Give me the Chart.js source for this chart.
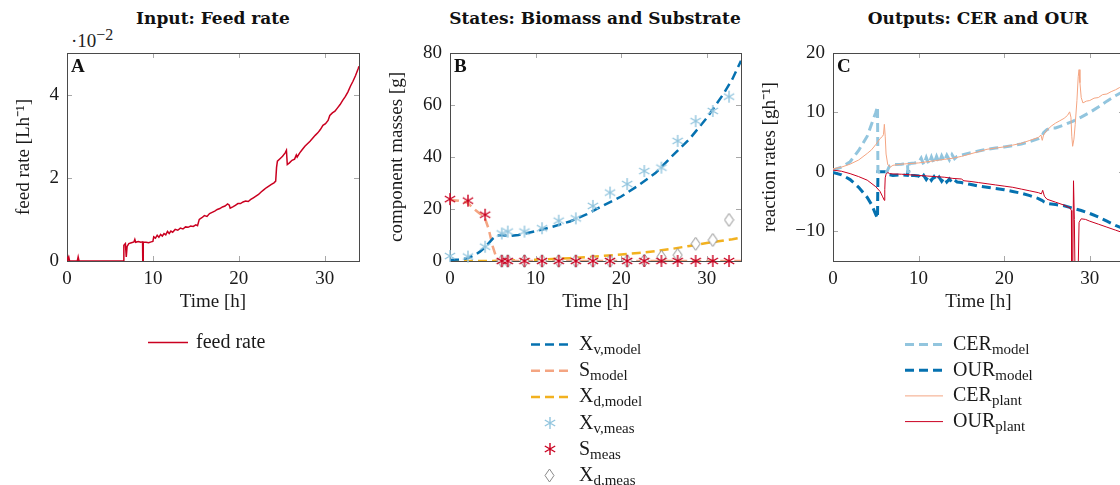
<!DOCTYPE html>
<html>
<head>
<meta charset="utf-8">
<script src="https://cdn.jsdelivr.net/npm/chart.js@4/dist/chart.umd.min.js"></script>
<style>
  html, body { margin: 0; padding: 0; background: #fff; width: 1120px; height: 485px; overflow: hidden; }
  canvas { position: absolute; top: 0; }
  .ttl { position: absolute; top: 8px; font: bold 17px "DejaVu Serif"; color: #111; white-space: nowrap; transform: translateX(-50%); }
  .expo { position: absolute; left: 71px; top: 26px; font: 19px "Liberation Serif"; color: #222; }
  .expo sup { font-size: 16px; }
</style>
</head>
<body>
<div class="ttl" style="left:213px">Input: Feed rate</div>
<div class="ttl" style="left:595px">States: Biomass and Substrate</div>
<div class="ttl" style="left:978px">Outputs: CER and OUR</div>
<div class="expo">·10<sup>−2</sup></div>
<canvas id="cA" width="380" height="485" style="left:0px"></canvas>
<canvas id="cB" width="380" height="485" style="left:375px"></canvas>
<canvas id="cC" width="400" height="485" style="left:752px"></canvas>
<script>
// ---- data ----
const timeTicks = [0, 10, 20, 30];
const feedTicks = [0, 2, 4];
const massTicks = [0, 20, 40, 60, 80];
const rateTicks = [-10, 0, 10, 20];

// feed rate (x 10^-2 L/h)
const feedTime = [0, 0.1, 0.2, 0.3, 1.2, 1.3, 1.4, 6.6, 6.62, 6.8, 6.9, 7.0, 7.2, 7.5, 7.8, 7.9, 8.0, 8.3, 8.6, 8.8, 8.82, 8.86, 8.88,
  9.2, 9.5, 9.8, 10.0, 10.1, 10.3, 10.5, 10.7, 10.9, 11.1, 11.3, 11.5, 11.7, 11.9, 12.1, 12.3, 12.6, 12.9, 13.2, 13.5, 13.8,
  14.1, 14.4, 14.7, 15.0, 15.2, 15.4, 15.7, 16.0, 16.3, 16.6, 16.9, 17.2, 17.5, 17.8, 18.1, 18.4, 18.7, 18.9, 19.0, 19.3,
  19.6, 19.9, 20.2, 20.5, 20.8, 21.1, 21.4, 21.7, 22.0, 22.3, 22.6, 22.9, 23.2, 23.5, 23.8, 24.1, 24.3, 24.4, 24.5, 24.8,
  25.1, 25.4, 25.55, 25.65, 25.9, 26.2, 26.5, 26.7, 26.8, 27.1, 27.4, 27.7, 28.0, 28.3, 28.6, 28.9, 29.2, 29.5, 29.8, 30.1,
  30.4, 30.6, 30.9, 31.2, 31.5, 31.8, 32.1, 32.4, 32.7, 33.0, 33.3, 33.6, 33.9, 34.0];
const feedRate = [0.1, 0.05, 0.1, 0, 0, 0.1, 0, 0, 0.38, 0.42, 0.1, 0.35, 0.42, 0.44, 0.46, 0.52, 0.45, 0.47, 0.45, 0.46, 0, 0, 0.45,
  0.45, 0.44, 0.46, 0.47, 0.58, 0.55, 0.62, 0.57, 0.64, 0.6, 0.66, 0.63, 0.71, 0.66, 0.72, 0.69, 0.76, 0.74, 0.79, 0.77, 0.82,
  0.81, 0.84, 0.83, 0.87, 0.85, 1.0, 1.04, 1.09, 1.07, 1.14, 1.17, 1.2, 1.24, 1.26, 1.3, 1.32, 1.37, 1.34, 1.27, 1.3,
  1.34, 1.38, 1.38, 1.42, 1.44, 1.43, 1.48, 1.52, 1.56, 1.6, 1.66, 1.71, 1.76, 1.8, 1.84, 1.88, 1.92, 2.25, 2.4, 2.46,
  2.52, 2.6, 2.66, 2.32, 2.36, 2.42, 2.45, 2.55, 2.5, 2.6, 2.68, 2.76, 2.82, 2.88, 2.95, 3.02, 3.08, 3.16, 3.26, 3.3,
  3.38, 3.5, 3.56, 3.6, 3.68, 3.76, 3.86, 3.95, 4.06, 4.2, 4.32, 4.46, 4.62, 4.68];

// states (g)
const modelTime = [0, 1, 2, 3, 3.5, 4, 4.5, 5, 5.5, 6, 7, 8, 10, 12, 14, 16, 18, 20, 22, 24, 26, 28, 30, 32, 33, 34];
const xvModel = [0.4, 0.6, 1.0, 2.5, 3.6, 5.0, 6.8, 8.6, 9.8, 10.0, 9.6, 10.0, 11.5, 13.2, 15.2, 18.0, 21.5, 24.8, 29.0, 33.8, 40.5, 47.0, 55.0, 64.5, 70.0, 77.0];
const sModel = [23.5, 23.2, 22.5, 19.5, 18.2, 17.2, 12.5, 5.5, 0.5, 0.1, 0, 0, 0, 0, 0, 0, 0, 0, 0, 0, 0, 0, 0, 0, 0, 0];
const xdModel = [0, 0, 0, 0, 0, 0, 0, 0, 0.05, 0.1, 0.2, 0.3, 0.5, 0.8, 1.1, 1.5, 2.0, 2.5, 3.1, 3.8, 4.7, 5.8, 6.9, 7.9, 8.4, 9.0];
const measTime = [0, 2.1, 4.1, 6.05, 6.75, 8.7, 10.75, 12.7, 14.7, 16.7, 18.7, 20.7, 22.7, 24.7, 26.6, 28.7, 30.7, 32.6];
const xvMeas = [1.9, 1.7, 5.5, 10.6, 11.3, 11.3, 12.6, 15.5, 16.4, 21.2, 26.3, 29.6, 34.6, 35.9, 46.2, 53.8, 57.7, 63.2];
const sMeas = [23.8, 23.2, 17.8, 0, 0, 0, 0, 0, 0, 0, 0, 0, 0, 0, 0, 0, 0, 0];
const xdMeas = [null, null, null, 0, 0, 0, 0, 0, 0, 0, 0, 0, 0.2, 1.6, 2.3, 6.6, 8.1, 15.8];

// outputs (g/h)
const rateModelTime = [0, 1, 2, 3, 4, 4.5, 5.0, 5.2, 5.25, 6.3, 6.6, 7, 8, 8.7, 8.75, 8.85, 8.9, 9.5, 10, 10.3, 10.6, 10.9, 11.2,
  11.5, 11.8, 12.1, 12.4, 12.7, 13.0, 13.3, 13.6, 13.9, 14.2, 14.5, 15, 16, 17, 18, 19, 20, 21, 22, 23, 24, 24.4, 24.6,
  25, 25.5, 26, 27, 28, 29, 30, 31, 32, 33, 34];
const cerModel = [0.3, 0.8, 1.7, 3.6, 6.0, 8.0, 10.0, 11.0, 0, 0, 1.0, 1.2, 1.3, 1.4, 0, 0, 1.4, 1.5, 1.6, 2.3, 1.2, 2.4, 1.3,
  2.5, 1.4, 2.6, 1.5, 2.7, 1.8, 2.8, 2.0, 2.9, 2.2, 2.6, 2.8, 3.2, 3.5, 3.8, 4.0, 4.2, 4.4, 4.7, 5.1, 5.6, 6.0, 6.6,
  7.1, 7.4, 7.4, 7.9, 8.5, 9.2, 10.0, 10.9, 11.9, 12.8, 13.6];
const ourModel = [-0.1, -0.5, -1.3, -2.6, -4.3, -5.5, -7.2, -7.8, 0, 0, -0.5, -0.6, -0.5, -0.6, 0, 0, -0.6, -0.6, -0.7, -1.2, -0.6, -1.3, -0.7,
  -1.4, -0.8, -1.5, -0.9, -1.6, -1.0, -1.7, -1.2, -1.8, -1.4, -1.7, -1.8, -2.1, -2.4, -2.6, -2.8, -3.0, -3.3, -3.6, -4.0, -4.5, -4.8, -5.0,
  -5.3, -5.4, -5.5, -5.7, -6.1, -6.5, -7.0, -7.6, -8.3, -9.0, -9.6];
const cerPlantTime = [0, 1, 2, 3, 4, 4.5, 5, 5.5, 5.8, 5.9, 6.0, 6.1, 6.2, 6.4, 6.7, 7.0, 7.5, 8, 9, 10, 11, 12, 13, 14, 15, 16, 17,
  18, 19, 20, 21, 22, 23, 24, 24.3, 24.45, 24.6, 25, 25.5, 26, 26.5, 27, 27.4, 27.65, 27.8, 27.9, 28.0, 28.15, 28.3, 28.5,
  28.65, 28.75, 28.85, 29.0, 29.2, 29.6, 30, 30.5, 31, 31.5, 32, 32.5, 33, 33.5, 34];
const cerPlant = [0.5, 0.8, 1.3, 2.0, 3.1, 3.7, 4.6, 5.6, 6.0, 6.3, 8.0, 6.0, 3.0, 1.2, 0.8, 1.1, 1.2, 1.3, 1.4, 1.5, 1.7, 1.9, 2.1, 2.3, 2.6, 3.0, 3.4,
  3.8, 4.0, 4.2, 4.5, 4.8, 5.3, 5.8, 6.2, 5.3, 6.2, 7.0, 7.7, 8.2, 8.6, 9.0, 9.5, 10.1, 9.2, 6.0, 4.3, 5.5, 8.0, 12.0,
  16.0, 17.2, 15.0, 12.5, 11.6, 11.9, 12.0, 12.4, 12.5, 13.0, 13.1, 13.5, 13.8, 14.2, 14.3];
const ourPlantTime = [0, 1, 2, 3, 4, 5, 5.5, 5.8, 6.0, 6.05, 6.1, 6.2, 6.4, 6.6, 7, 8, 9, 10, 11, 12, 13, 14, 15, 15.3, 16, 17, 18,
  19, 20, 21, 22, 23, 24, 24.35, 24.5, 24.7, 25, 26, 27, 27.7, 27.85, 27.9, 28.0, 28.1, 28.2, 28.3, 28.6, 28.75, 29, 29.5,
  30, 31, 32, 33, 34];
const ourPlant = [0.3, 0.1, -0.3, -0.8, -1.4, -2.5, -3.3, -4.2, -4.8, -3.0, -1.0, -0.4, -0.1, -0.3, -0.35, -0.4, -0.5, -0.6, -0.7, -0.8, -0.9, -1.1, -1.2, -1.5, -1.6, -1.8, -2.0,
  -2.2, -2.4, -2.6, -2.9, -3.2, -3.5, -3.7, -3.1, -4.1, -4.6, -5.1, -5.6, -6.1, -6.5, -20, -20, -1.5, -8, -20, -20, -8.5, -7.9, -8.0,
  -8.3, -8.8, -9.3, -9.8, -10.3];

// ---- colours ----
const RED = '#ca0020', SALMON = '#f4a582', LBLUE = '#92c5de', DBLUE = '#0571b0', ORANGE = '#f2b11f', GRAY = '#8a8a8a';
const FONT = '"Liberation Serif", serif';
const TXT = '#1a1a1a';

const zip = (xs, ys) => xs.map((x, i) => ({ x: x, y: ys[i] }));

function asterisk(color) {
  const c = document.createElement('canvas');
  c.width = 14; c.height = 14;
  const g = c.getContext('2d');
  g.strokeStyle = color; g.lineWidth = 1.4;
  g.beginPath();
  for (let k = 0; k < 3; k++) {
    const a = Math.PI / 2 + k * Math.PI / 3;
    g.moveTo(7 + 6 * Math.cos(a), 7 + 6 * Math.sin(a));
    g.lineTo(7 - 6 * Math.cos(a), 7 - 6 * Math.sin(a));
  }
  g.stroke();
  return c;
}
function diamond(color) {
  const c = document.createElement('canvas');
  c.width = 11; c.height = 15;
  const g = c.getContext('2d');
  g.strokeStyle = color; g.fillStyle = '#fff'; g.lineWidth = 1;
  g.beginPath();
  g.moveTo(5.5, 1); g.lineTo(10, 7.5); g.lineTo(5.5, 14); g.lineTo(1, 7.5); g.closePath();
  g.fill(); g.stroke();
  return c;
}

// frame, inward ticks and panel letter
const frame = {
  id: 'frame',
  beforeDatasetsDraw(chart) {
    const { ctx, chartArea: a, scales } = chart;
    ctx.save();
    ctx.strokeStyle = '#a8a8a8';
    ctx.lineWidth = 1;
    ctx.beginPath();
    scales.x.ticks.forEach(t => {
      const px = Math.round(scales.x.getPixelForValue(t.value)) + 0.5;
      ctx.moveTo(px, a.bottom); ctx.lineTo(px, a.bottom - 5);
      ctx.moveTo(px, a.top); ctx.lineTo(px, a.top + 5);
    });
    scales.y.ticks.forEach(t => {
      const py = Math.round(scales.y.getPixelForValue(t.value)) + 0.5;
      ctx.moveTo(a.left, py); ctx.lineTo(a.left + 5, py);
      ctx.moveTo(a.right, py); ctx.lineTo(a.right - 5, py);
    });
    ctx.stroke();
    ctx.strokeStyle = '#4a4a4a';
    ctx.strokeRect(Math.round(a.left) + 0.5, Math.round(a.top) + 0.5, Math.round(a.right - a.left), Math.round(a.bottom - a.top));
    ctx.restore();
  },
  afterDatasetsDraw(chart, args, opts) {
    const { ctx, chartArea: a } = chart;
    ctx.save();
    ctx.fillStyle = '#111';
    ctx.font = 'bold 19px ' + FONT;
    ctx.textBaseline = 'top';
    ctx.fillText(opts.letter, a.left + 4, a.top + 5);
    ctx.restore();
  }
};

// legend rows under the plot, with subscripts
const rowLegend = {
  id: 'rowLegend',
  afterDraw(chart, args, opts) {
    const ctx = chart.ctx;
    ctx.save();
    chart.data.datasets.forEach((ds, i) => {
      const y = opts.y + i * opts.rowH;
      if (ds.showLine === false) {
        const img = ds.pointStyle;
        ctx.drawImage(img, Math.round((opts.x0 + opts.x1) / 2 - img.width / 2), Math.round(y - img.height / 2));
      } else {
        ctx.strokeStyle = ds.borderColor;
        ctx.lineWidth = ds.borderWidth;
        ctx.setLineDash(ds.borderDash || []);
        ctx.beginPath();
        ctx.moveTo(opts.x0, y + 0.5); ctx.lineTo(opts.x1, y + 0.5);
        ctx.stroke();
        ctx.setLineDash([]);
      }
      ctx.fillStyle = TXT;
      ctx.textBaseline = 'alphabetic';
      ctx.font = '20px ' + FONT;
      ctx.fillText(ds.label, opts.tx, y + 6);
      if (ds.sub) {
        const w = ctx.measureText(ds.label).width;
        ctx.font = '15px ' + FONT;
        ctx.fillText(ds.sub, opts.tx + w, y + 10);
      }
    });
    ctx.restore();
  }
};

function makeChart(id, datasets, o) {
  return new Chart(document.getElementById(id), {
    type: 'line',
    data: { datasets: datasets },
    plugins: [frame, rowLegend],
    options: {
      responsive: false,
      animation: false,
      events: [],
      layout: { padding: { left: 0, top: 53, right: o.padRight, bottom: 165 } },
      elements: { point: { radius: 0 }, line: { tension: 0 } },
      plugins: {
        legend: { display: false },
        tooltip: { enabled: false },
        frame: { letter: o.letter },
        rowLegend: o.legend
      },
      scales: {
        x: {
          type: 'linear', min: 0, max: 34,
          afterBuildTicks: s => { s.ticks = timeTicks.map(v => ({ value: v })); },
          afterFit: s => { s.height = 59; },
          grid: { display: false, drawTicks: false },
          border: { display: false },
          ticks: { font: { family: FONT, size: 19 }, color: TXT, padding: 7 },
          title: { display: true, text: 'Time [h]', font: { family: FONT, size: 19 }, color: TXT, padding: { top: 0, bottom: 7 } }
        },
        y: {
          type: 'linear', min: o.ymin, max: o.ymax,
          afterBuildTicks: s => { s.ticks = o.yticks.map(v => ({ value: v })); },
          afterFit: s => { s.width = o.yWidth; },
          grid: { display: false, drawTicks: false },
          border: { display: false },
          ticks: {
            font: { family: FONT, size: 19 }, color: TXT, padding: 8,
            callback: v => (v < 0 ? '\u2212' + Math.abs(v) : String(v))
          },
          title: { display: true, text: o.ytitle, font: { family: FONT, size: 19 }, color: TXT, padding: { top: o.yTitlePad, bottom: 0 } }
        }
      }
    }
  });
}

// Panel A
makeChart('cA', [
  { label: 'feed rate', data: zip(feedTime, feedRate), borderColor: RED, borderWidth: 1.5 }
], {
  letter: 'A', padRight: 21, yWidth: 67, ymin: 0, ymax: 5, yticks: feedTicks,
  ytitle: 'feed rate [Lh\u207B\u00B9]', yTitlePad: 13,
  legend: { x0: 148, x1: 188, tx: 196, y: 342, rowH: 26 }
});

// Panel B
makeChart('cB', [
  { label: 'X', sub: 'v,model', data: zip(modelTime, xvModel), borderColor: DBLUE, borderWidth: 2.5, borderDash: [9, 5], order: 1 },
  { label: 'S', sub: 'model', data: zip(modelTime, sModel), borderColor: SALMON, borderWidth: 2.5, borderDash: [9, 5], order: 1 },
  { label: 'X', sub: 'd,model', data: zip(modelTime, xdModel), borderColor: ORANGE, borderWidth: 2.5, borderDash: [9, 5], order: 1 },
  { label: 'X', sub: 'v,meas', data: zip(measTime, xvMeas), showLine: false, pointStyle: asterisk(LBLUE), pointRadius: 6, clip: 10, order: 0 },
  { label: 'S', sub: 'meas', data: zip(measTime, sMeas), showLine: false, pointStyle: asterisk(RED), pointRadius: 6, clip: 10, order: 0 },
  { label: 'X', sub: 'd,meas', data: zip(measTime, xdMeas), showLine: false, pointStyle: diamond(GRAY), pointRadius: 6, clip: 10, order: 0 }
], {
  letter: 'B', padRight: 14, yWidth: 75, ymin: 0, ymax: 80, yticks: massTicks,
  ytitle: 'component masses [g]', yTitlePad: 11,
  legend: { x0: 156, x1: 193, tx: 204, y: 344, rowH: 26.2 }
});

// Panel C
makeChart('cC', [
  { label: 'CER', sub: 'model', data: zip(rateModelTime, cerModel), borderColor: LBLUE, borderWidth: 3, borderDash: [9, 5], order: 1 },
  { label: 'OUR', sub: 'model', data: zip(rateModelTime, ourModel), borderColor: DBLUE, borderWidth: 3, borderDash: [9, 5], order: 1 },
  { label: 'CER', sub: 'plant', data: zip(cerPlantTime, cerPlant), borderColor: SALMON, borderWidth: 1, order: 0 },
  { label: 'OUR', sub: 'plant', data: zip(ourPlantTime, ourPlant), borderColor: RED, borderWidth: 1, order: 0 }
], {
  letter: 'C', padRight: 28, yWidth: 81, ymin: -15, ymax: 20, yticks: rateTicks,
  ytitle: 'reaction rates [gh\u207B\u00B9]', yTitlePad: 7,
  legend: { x0: 153, x1: 191, tx: 201, y: 344, rowH: 25.7 }
});
</script>
</body>
</html>
